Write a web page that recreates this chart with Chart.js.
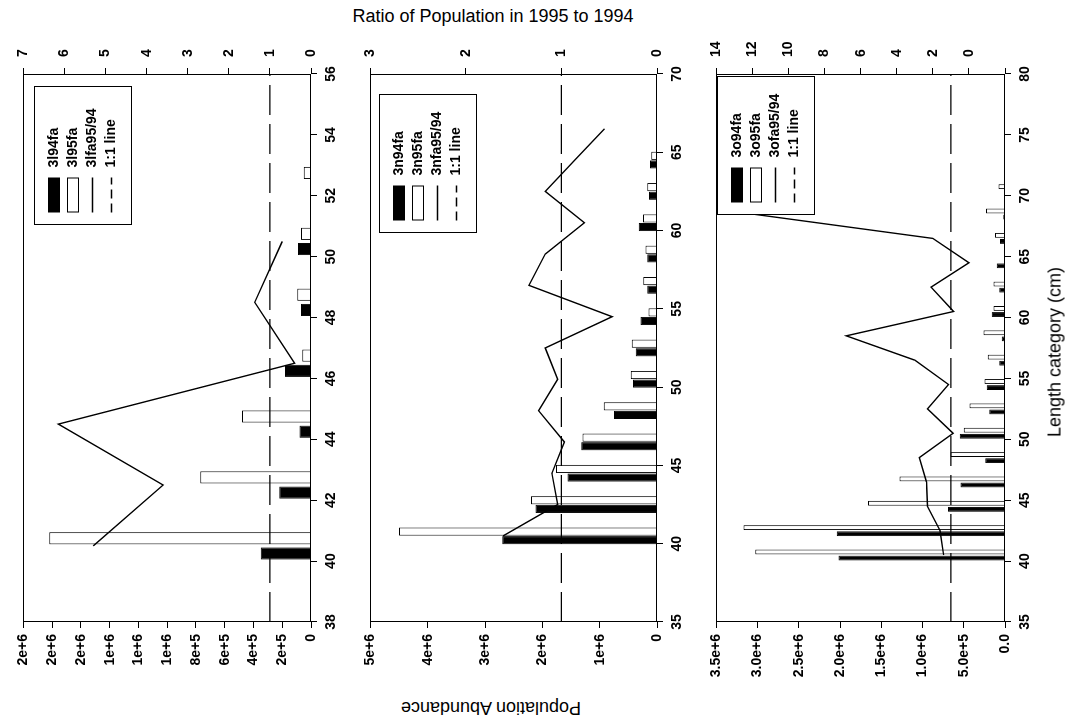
<!DOCTYPE html>
<html>
<head>
<meta charset="utf-8">
<title>Ratio of Population in 1995 to 1994</title>
<script src="https://cdn.jsdelivr.net/npm/chart.js@4.4.1/dist/chart.umd.min.js"></script>
<style>
  html, body { margin: 0; padding: 0; background: #fff; }
  body { width: 1078px; height: 725px; position: relative; overflow: hidden;
         font-family: "Liberation Sans", Arial, sans-serif; color: #000; }
  .panel { position: absolute; left: 0; top: 0; transform-origin: 0 0; }
  .ttl { position: absolute; font-size: 18px; white-space: nowrap; }
</style>
</head>
<body>
<div class="panel" id="p1"><canvas id="c1"></canvas></div>
<div class="panel" id="p2"><canvas id="c2"></canvas></div>
<div class="panel" id="p3"><canvas id="c3"></canvas></div>
<div class="ttl" id="tRatio">Ratio of Population in 1995 to 1994</div>
<div class="ttl" id="tPop">Population Abundance</div>
<div class="ttl" id="tLen">Length category (cm)</div>

<script>
/* ── Data ─────────────────────────────────────────────────────────────── */
// 3l
const len3l    = [40.5, 42.5, 44.5, 46.5, 48.5, 50.5, 52.5];
const pop94_3l = [3.5e5, 2.2e5, 8e4, 1.8e5, 7e4, 9e4, 0];
const pop95_3l = [1.82e6, 7.7e5, 4.8e5, 6e4, 9.5e4, 7e4, 5e4];
const ratio3l  = [5.3, 3.6, 6.15, 0.4, 1.37, 0.7, null];

// 3n
const len3n    = [40.5, 42.5, 44.5, 46.5, 48.5, 50.5, 52.5, 54.5, 56.5, 58.5, 60.5, 62.5, 64.5, 66.5];
const pop94_3n = [2.7e6, 2.12e6, 1.56e6, 1.32e6, 7.5e5, 4.2e5, 3.7e5, 2.9e5, 1.7e5, 1.7e5, 3.2e5, 1.4e5, 1.2e5, 0];
const pop95_3n = [4.5e6, 2.2e6, 1.76e6, 1.3e6, 9.3e5, 4.6e5, 4.4e5, 1.5e5, 2.4e5, 2.0e5, 2.45e5, 1.7e5, 1.0e5, 0];
const ratio3n  = [1.61, 1.04, 1.10, 0.97, 1.24, 1.04, 1.17, 0.47, 1.34, 1.17, 0.76, 1.17, 0.86, 0.55];

// 3o
const len3o    = [40.5, 42.5, 44.5, 46.5, 48.5, 50.5, 52.5, 54.5, 56.5, 58.5, 60.5, 62.5, 64.5, 66.5, 68.5, 70.5];
const pop94_3o = [2.02e6, 2.04e6, 6.9e5, 5.4e5, 2.4e5, 5.5e5, 1.9e5, 2.2e5, 7e4, 3.8e4, 1.6e5, 7e4, 1.0e5, 6e4, 2e4, 0];
const pop95_3o = [3.03e6, 3.17e6, 1.66e6, 1.28e6, 6.6e5, 5.0e5, 4.3e5, 2.5e5, 2.1e5, 2.6e5, 1.4e5, 1.4e5, 0, 1.2e5, 2.3e5, 8e4];
const ratio3o  = [1.4, 1.6, 2.3, 2.35, 2.75, 0.88, 2.3, 1.13, 3.0, 6.8, 0.85, 2.1, 0, 2.0, 12.0, null];

const oneToOne = 1;

/* ── Layout (screen px; each chart is drawn upright then turned -90°) ──── */
const Y0 = 28, Y1 = 690;          // screen top / bottom of every canvas
const W = Y1 - Y0;                // canvas width before rotation
const POP_W = Y1 - 622;           // left axis (population) -> screen bottom
const RATIO_W = 74 - Y0;          // right axis (ratio) -> screen top
const FONT = '"Liberation Sans", Arial, sans-serif';
const tickFont = { family: FONT, size: 14, weight: 'bold' };

const expFmt = d => v => (v === 0 ? (d ? (0).toFixed(d) : '0') : Number(v).toExponential(d));

/* ── Plugin: plot frame + boxed legend inside the plot ───────────────── */
const boxLegend = {
  id: 'boxLegend',
  afterDatasetsDraw(chart, args, o) {
    const { ctx, chartArea: a } = chart;
    ctx.save();
    ctx.strokeStyle = '#000';
    ctx.lineWidth = 1;
    ctx.strokeRect(Math.round(a.left) + 0.5, Math.round(a.top) + 0.5,
                   Math.round(a.width) - 1, Math.round(a.height) - 1);

    const bw = 138, bh = 97;
    const right = Math.round(a.right - o.insetRight) + 0.5;
    const top = Math.round(a.top + o.insetTop) + 0.5;
    const left = right - bw;
    ctx.fillStyle = '#fff';
    ctx.fillRect(left, top, bw, bh);
    ctx.strokeRect(left, top, bw, bh);

    ctx.font = 'bold 14px ' + FONT;
    ctx.textBaseline = 'middle';
    o.names.forEach((name, i) => {
      const cy = Math.round(top + 19 + i * 19.3);
      const sx = left + 12, sw = 35;
      ctx.setLineDash([]);
      ctx.lineWidth = 1;
      if (i === 0) {
        ctx.fillStyle = '#000';
        ctx.fillRect(sx, cy - 6, sw, 12);
      } else if (i === 1) {
        ctx.fillStyle = '#fff';
        ctx.fillRect(sx, cy - 6, sw, 12);
        ctx.strokeRect(sx + 0.5, cy - 5.5, sw - 1, 11);
      } else {
        ctx.lineWidth = 1.3;
        if (i === 3) ctx.setLineDash([9, 5]);
        ctx.beginPath();
        ctx.moveTo(sx, cy + 0.5);
        ctx.lineTo(sx + sw, cy + 0.5);
        ctx.stroke();
      }
      ctx.setLineDash([]);
      ctx.fillStyle = '#000';
      ctx.fillText(name, left + 57, cy);
    });
    ctx.restore();
  }
};

/* ── One panel ───────────────────────────────────────────────────────── */
function makePanel(p) {
  const H = p.x1 - p.x0;
  const box = document.getElementById(p.box);
  box.style.width = W + 'px';
  box.style.height = H + 'px';
  box.style.transform = `translate(${p.x0}px, ${Y1}px) rotate(-90deg)`;
  const cv = document.getElementById(p.canvas);
  cv.width = W;
  cv.height = H;

  const pts = arr => p.len.map((x, i) => ({ x, y: arr[i] }));
  const axisGrid = { drawOnChartArea: false, drawTicks: true, tickLength: 6, color: '#000', lineWidth: 1 };

  new Chart(cv, {
    data: {
      datasets: [
        { type: 'line', label: p.names[2], data: pts(p.ratio), yAxisID: 'ratio',
          borderColor: '#000', borderWidth: 1.4, pointRadius: 0, tension: 0, fill: false, order: 0 },
        { type: 'line', label: p.names[3],
          data: [{ x: p.lenMin, y: oneToOne }, { x: p.lenMax, y: oneToOne }], yAxisID: 'ratio',
          borderColor: '#000', borderWidth: 1.3, borderDash: [30, 9], pointRadius: 0, fill: false, order: 0 },
        { type: 'bar', label: p.names[0], data: pts(p.p94), yAxisID: 'pop',
          backgroundColor: '#000', borderColor: '#000', borderWidth: 1,
          categoryPercentage: p.catPct, barPercentage: p.barPct, order: 1 },
        { type: 'bar', label: p.names[1], data: pts(p.p95), yAxisID: 'pop',
          backgroundColor: '#fff', borderColor: '#000', borderWidth: 1,
          categoryPercentage: p.catPct, barPercentage: p.barPct, order: 1 },
      ],
    },
    options: {
      responsive: false,
      animation: false,
      devicePixelRatio: 1,
      layout: { padding: { top: 10, left: 0, right: 0, bottom: 0 } },
      plugins: {
        legend: { display: false },
        tooltip: { enabled: false },
        boxLegend: { names: p.names, insetTop: p.legInset[0], insetRight: p.legInset[1] },
      },
      scales: {
        x: {
          type: 'linear', position: 'bottom', min: p.lenMin, max: p.lenMax, offset: false,
          ticks: { stepSize: p.lenStep, font: tickFont, color: '#000', padding: 6,
                   maxRotation: 0, autoSkip: false },
          grid: { ...axisGrid, offset: false }, border: { display: false },
          afterFit: s => { s.height = p.bottomH; },
        },
        pop: {
          type: 'linear', position: 'left', min: 0, max: p.popMax,
          ticks: { stepSize: p.popStep, font: tickFont, color: '#000', padding: 6,
                   autoSkip: false, callback: expFmt(p.popDigits) },
          grid: axisGrid, border: { display: false },
          afterFit: s => { s.width = POP_W; },
        },
        ratio: {
          type: 'linear', position: 'right', min: p.ratioMin, max: p.ratioMax,
          ticks: { stepSize: p.ratioStep, font: tickFont, color: '#000', padding: 11,
                   autoSkip: false, callback: v => (v < 0 ? '' : v) },
          grid: axisGrid, border: { display: false },
          afterFit: s => { s.width = RATIO_W; },
        },
      },
    },
    plugins: [boxLegend],
  });
}

makePanel({
  box: 'p1', canvas: 'c1', x0: 4, x1: 350, bottomH: 39,
  len: len3l, p94: pop94_3l, p95: pop95_3l, ratio: ratio3l,
  lenMin: 38, lenMax: 56, lenStep: 2,
  popMax: 2e6, popStep: 2e5, popDigits: 0,
  ratioMin: 0, ratioMax: 7, ratioStep: 1,
  catPct: 0.5, barPct: 0.8,
  names: ['3l94fa', '3l95fa', '3lfa95/94', '1:1 line'], legInset: [11, 13],
});

makePanel({
  box: 'p2', canvas: 'c2', x0: 351, x1: 700, bottomH: 43,
  len: len3n, p94: pop94_3n, p95: pop95_3n, ratio: ratio3n,
  lenMin: 35, lenMax: 70, lenStep: 5,
  popMax: 5e6, popStep: 1e6, popDigits: 0,
  ratioMin: 0, ratioMax: 3, ratioStep: 1,
  catPct: 0.55, barPct: 0.95,
  names: ['3n94fa', '3n95fa', '3nfa95/94', '1:1 line'], legInset: [9, 21],
});

makePanel({
  box: 'p3', canvas: 'c3', x0: 697, x1: 1078, bottomH: 73,
  len: len3o, p94: pop94_3o, p95: pop95_3o, ratio: ratio3o,
  lenMin: 35, lenMax: 80, lenStep: 5,
  popMax: 3.5e6, popStep: 5e5, popDigits: 1,
  ratioMin: -2, ratioMax: 14, ratioStep: 2,
  catPct: 0.5, barPct: 0.8,
  names: ['3o94fa', '3o95fa', '3ofa95/94', '1:1 line'], legInset: [1, 3],
});

/* ── Outer titles (screen oriented) ──────────────────────────────────── */
function place(id, x, y, rot) {
  const el = document.getElementById(id);
  el.style.left = x + 'px';
  el.style.top = y + 'px';
  el.style.transform = `translate(-50%, -50%) rotate(${rot}deg)`;
}
place('tRatio', 493, 16, 0);
place('tPop', 491, 707, 180);
place('tLen', 1055, 352, -90);
</script>
</body>
</html>
